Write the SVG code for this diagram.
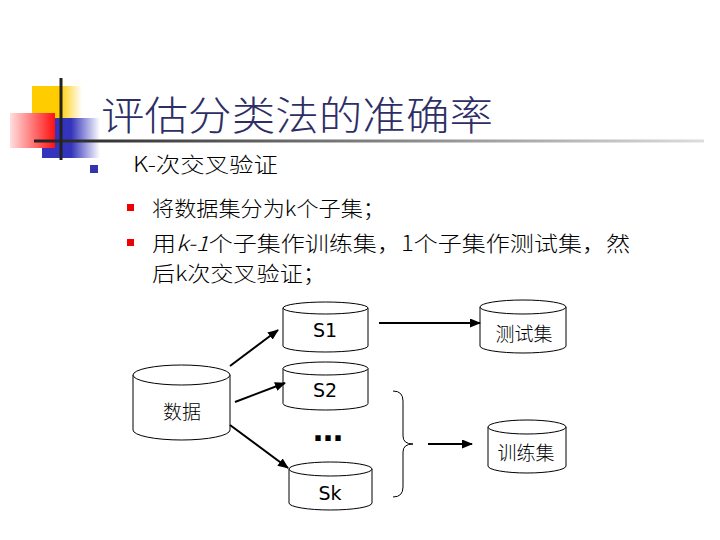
<svg xmlns="http://www.w3.org/2000/svg" width="720" height="540" viewBox="0 0 720 540">
<defs>
<linearGradient id="gY" x1="0" y1="0" x2="1" y2="0"><stop offset="0" stop-color="#ffcc00"/><stop offset="0.55" stop-color="#ffcc00"/><stop offset="1" stop-color="#ffcc00" stop-opacity="0"/></linearGradient>
<linearGradient id="gB" x1="0" y1="0" x2="1" y2="0"><stop offset="0" stop-color="#3333bb"/><stop offset="0.5" stop-color="#3333bb"/><stop offset="1" stop-color="#3333bb" stop-opacity="0"/></linearGradient>
<linearGradient id="gR" x1="0" y1="0" x2="1" y2="0"><stop offset="0" stop-color="#ffdede"/><stop offset="1" stop-color="#ff1010"/></linearGradient>
<linearGradient id="gL" x1="0" y1="0" x2="1" y2="0"><stop offset="0" stop-color="#222222"/><stop offset="1" stop-color="#dddddd"/></linearGradient>
<marker id="ah" markerUnits="userSpaceOnUse" markerWidth="11" markerHeight="9" refX="10" refY="4.5" orient="auto"><path d="M0,0 L11,4.5 L0,9 Z" fill="#000"/></marker>
<style>
.cyl{fill:#fff;stroke:#000;stroke-width:1}
.lbl{font-family:"DejaVu Sans","Noto Sans CJK SC",sans-serif;font-size:19px;fill:#000;text-anchor:middle}
.dots{font-family:"DejaVu Sans",sans-serif;font-size:30px;font-weight:bold;fill:#000;text-anchor:middle}
.cjk{font-family:"Noto Sans CJK SC","Noto Sans",sans-serif;font-size:19px;font-weight:300;fill:#000;text-anchor:middle}
.body{font-family:"Noto Sans CJK SC","Noto Sans",sans-serif;font-size:21px;font-weight:300;fill:#000}
.con{stroke:#000;stroke-width:2;fill:none}
</style>
</defs>
<rect width="720" height="540" fill="#fff"/>
<g id="decor">
<rect x="32" y="86" width="50" height="33" fill="url(#gY)"/>
<rect x="42" y="118" width="58" height="40" fill="url(#gB)"/>
<rect x="10" y="113" width="45" height="35" fill="url(#gR)"/>
<rect x="34" y="139.5" width="670" height="3" fill="url(#gL)"/>
<rect x="59.5" y="78" width="3" height="82" fill="#222"/>
</g>
<g id="title">
<text x="101" y="130" font-family="'Noto Sans CJK SC',sans-serif" font-size="40" font-weight="300" fill="#2e2e66" textLength="392" lengthAdjust="spacingAndGlyphs">评估分类法的准确率</text>
</g>
<g id="bullets">
<rect x="90" y="165" width="8" height="8" fill="#3333aa"/>
<text class="body" x="133" y="172" textLength="145" lengthAdjust="spacingAndGlyphs">K-次交叉验证</text>
<rect x="127" y="204" width="7" height="7" fill="#ee0000"/>
<text class="body" x="152" y="216" textLength="233" lengthAdjust="spacingAndGlyphs">将数据集分为k个子集；</text>
<rect x="127" y="239" width="7" height="7" fill="#ee0000"/>
<text class="body" x="152" y="251" textLength="478" lengthAdjust="spacingAndGlyphs">用<tspan font-style="italic">k-1</tspan>个子集作训练集，1个子集作测试集，然</text>
<text class="body" x="152" y="281" textLength="174" lengthAdjust="spacingAndGlyphs">后k次交叉验证；</text>
</g>
<g id="node-data">
<path class="cyl" d="M133,375 V430 A48.5,10 0 0 0 230,430 V375"/>
<ellipse class="cyl" cx="181.5" cy="375" rx="48.5" ry="10"/>
<text class="cjk" x="182" y="419">数据</text>
</g>
<g id="node-s1">
<path class="cyl" d="M283,308 V346 A42.5,6 0 0 0 368,346 V308"/>
<ellipse class="cyl" cx="325.5" cy="308" rx="42.5" ry="6"/>
<text class="lbl" x="325" y="337">S1</text>
</g>
<g id="node-s2">
<path class="cyl" d="M283,368.5 V403.5 A42.5,6.5 0 0 0 368,403.5 V368.5"/>
<ellipse class="cyl" cx="325.5" cy="368.5" rx="42.5" ry="6.5"/>
<text class="lbl" x="325" y="397">S2</text>
</g>
<g id="node-dots">
<text class="dots" x="328" y="441">…</text>
</g>
<g id="node-sk">
<path class="cyl" d="M289,469 V503 A41.5,7 0 0 0 372,503 V469"/>
<ellipse class="cyl" cx="330.5" cy="469" rx="41.5" ry="7"/>
<text class="lbl" x="330" y="500">Sk</text>
</g>
<g id="node-test">
<path class="cyl" d="M480,307 V346 A43,7 0 0 0 566,346 V307"/>
<ellipse class="cyl" cx="523" cy="307" rx="43" ry="7"/>
<text class="cjk" x="524" y="341">测试集</text>
</g>
<g id="node-train">
<path class="cyl" d="M488,427 V466 A39,7 0 0 0 566,466 V427"/>
<ellipse class="cyl" cx="527" cy="427" rx="39" ry="7"/>
<text class="cjk" x="526" y="460">训练集</text>
</g>
<g id="connectors">
<line class="con" x1="230" y1="366" x2="278" y2="330" marker-end="url(#ah)"/>
<line class="con" x1="235" y1="402" x2="285" y2="383" marker-end="url(#ah)"/>
<line class="con" x1="230" y1="425" x2="288" y2="468" marker-end="url(#ah)"/>
<line class="con" x1="379" y1="323" x2="480" y2="323" marker-end="url(#ah)"/>
<line class="con" x1="428" y1="444" x2="472" y2="444" marker-end="url(#ah)"/>
<path d="M393,391 Q403,391 403,401 V436 Q403,444 413,444 Q403,444 403,452 V487 Q403,497 393,497" fill="none" stroke="#000" stroke-width="1"/>
</g>
</svg>
